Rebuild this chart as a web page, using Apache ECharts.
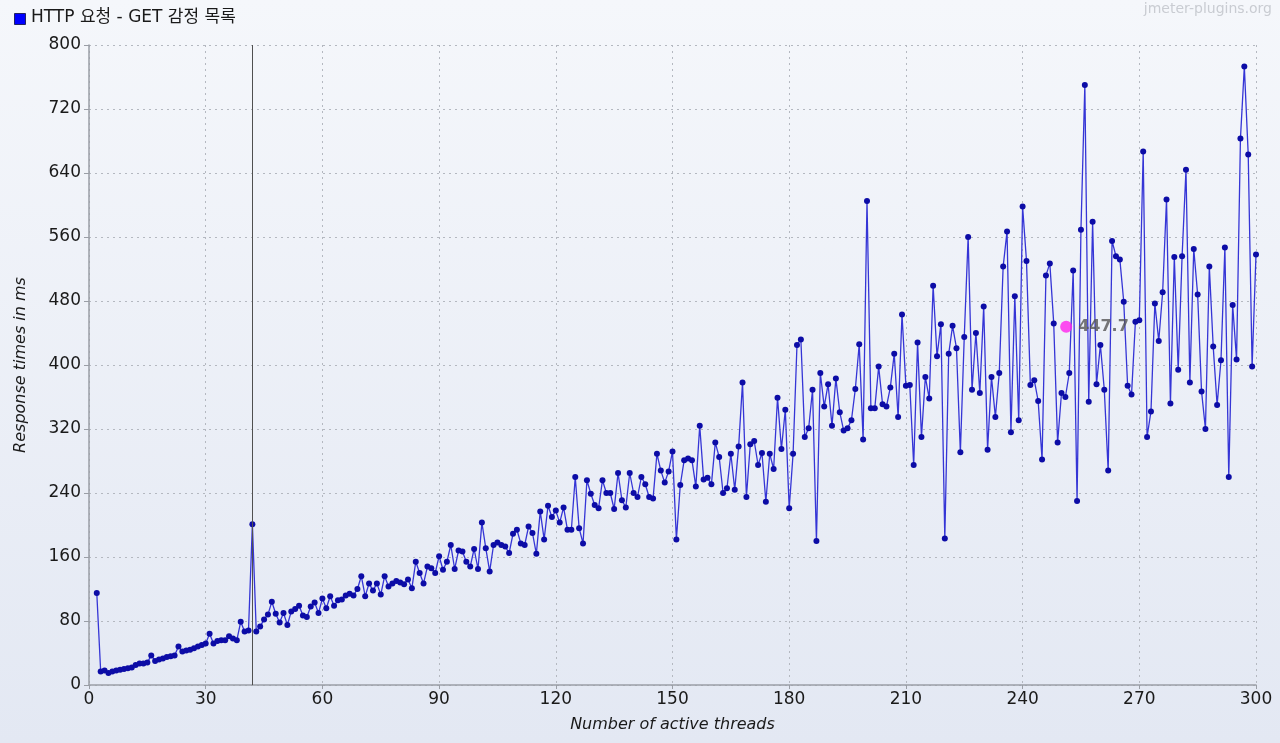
<!DOCTYPE html>
<html>
<head>
<meta charset="utf-8">
<script src="https://cdn.jsdelivr.net/npm/echarts@6/dist/echarts.min.js"></script>
<style>
html,body{margin:0;padding:0;width:1280px;height:743px;overflow:hidden;background:#e9edf6;}
#c{width:1280px;height:743px;}
</style>
</head>
<body>
<div id="c"></div>
<script>
var seriesName = 'HTTP 요청 - GET 감정 목록';
var xTitle = 'Number of active threads';
var yTitle = 'Response times in ms';
var watermark = 'jmeter-plugins.org';
var firstThread = 2;
var responseTimes = [
115,17,18,15,17,18,19,20,21,22,25,27,27,28,37,30,32,33,35,36,
37,48,42,43,44,46,48,50,52,64,52,55,56,56,61,58,56,79,67,68,
201,67,73,82,88,104,89,78,90,75,92,95,99,87,85,98,103,90,108,96,
111,99,106,107,112,114,112,120,136,111,127,118,127,113,136,123,127,130,128,126,
132,121,154,140,127,148,146,140,161,144,154,175,145,168,167,154,148,170,145,203,
171,142,175,178,175,173,165,189,194,177,175,198,190,164,217,182,224,210,218,203,
222,194,194,260,196,177,256,239,225,221,256,240,240,220,265,231,222,265,240,235,
260,251,235,233,289,268,253,267,292,182,250,281,283,281,248,324,257,259,251,303,
285,240,246,289,244,298,378,235,301,305,275,290,229,289,270,359,295,344,221,289,
425,432,310,321,369,180,390,348,376,324,383,341,318,321,331,370,426,307,605,346,
346,398,351,348,372,414,335,463,374,375,275,428,310,385,358,499,411,451,183,414,
449,421,291,435,560,369,440,365,473,294,385,335,390,523,567,316,486,331,598,530,
375,381,355,282,512,527,452,303,365,360,390,518,230,569,750,354,579,376,425,369,
268,555,536,532,479,374,363,454,456,667,310,342,477,430,491,607,352,535,394,536,
644,378,545,488,367,320,523,423,350,406,547,260,475,407,683,773,663,398,538
];
var crosshairX = 42;
var hoverPoint = [251.2, 447.7];
var xTicks = {min: 0, max: 300, interval: 30};
var yTicks = {min: 0, max: 800, interval: 80};

var pts = responseTimes.map(function(v, i){ return [firstThread + i, v]; });

var chart = echarts.init(document.getElementById('c'));
var axisFont = {fontFamily: 'DejaVu Sans', fontSize: 17, color: '#1a1a1a'};
chart.setOption({
  backgroundColor: {
    type: 'linear', x: 0, y: 0, x2: 0, y2: 1,
    colorStops: [{offset: 0, color: '#f5f7fb'}, {offset: 1, color: '#e3e8f3'}]
  },
  animation: false,
  graphic: [
    {type: 'rect', left: 14, top: 13, shape: {width: 11, height: 11},
     style: {fill: '#0000ff', stroke: '#222266', lineWidth: 1}},
    {type: 'text', left: 31, top: 9,
     style: {text: seriesName, fill: '#1a1a1a', font: '17px "DejaVu Sans", "Noto Sans CJK KR", sans-serif'}},
    {type: 'text', right: 8, top: 2,
     style: {text: watermark, fill: '#c9ccd2', font: '14px "DejaVu Sans", sans-serif'}}
  ],
  grid: {left: 89, right: 24, top: 45, bottom: 58, containLabel: false},
  xAxis: {
    type: 'value', min: xTicks.min, max: xTicks.max, interval: xTicks.interval,
    name: xTitle, nameLocation: 'middle', nameGap: 32,
    nameTextStyle: {fontFamily: 'DejaVu Sans', fontSize: 16, fontStyle: 'italic', color: '#1a1a1a'},
    axisLine: {show: true, lineStyle: {color: '#9a9ea6', width: 1.5}},
    axisTick: {show: true, length: 4, lineStyle: {color: '#9a9ea6'}},
    axisLabel: Object.assign({margin: 6}, axisFont),
    splitLine: {show: true, lineStyle: {color: '#b4b8c0', type: [2, 4], width: 1}}
  },
  yAxis: {
    type: 'value', min: yTicks.min, max: yTicks.max, interval: yTicks.interval,
    name: yTitle, nameLocation: 'middle', nameGap: 60, nameRotate: 90,
    nameTextStyle: {fontFamily: 'DejaVu Sans', fontSize: 16, fontStyle: 'italic', color: '#1a1a1a'},
    axisLine: {show: true, lineStyle: {color: '#9a9ea6', width: 1.5}},
    axisTick: {show: true, length: 5, lineStyle: {color: '#9a9ea6'}},
    axisLabel: Object.assign({margin: 8}, axisFont),
    splitLine: {show: true, lineStyle: {color: '#b4b8c0', type: [2, 4], width: 1}}
  },
  series: [
    {
      name: seriesName, type: 'line', data: pts,
      symbol: 'circle', symbolSize: 6,
      lineStyle: {color: '#3535d6', width: 1.3},
      itemStyle: {color: '#0c0ca6'},
      markLine: {
        silent: true, symbol: 'none', label: {show: false},
        lineStyle: {color: '#505050', type: 'solid', width: 1},
        data: [{xAxis: crosshairX}]
      },
      z: 2
    },
    {
      type: 'scatter', data: [hoverPoint], symbolSize: 12,
      itemStyle: {color: '#ff22ee'},
      label: {show: true, position: 'right', distance: 6,
        formatter: function(p){ return p.value[1].toFixed(1); },
        fontFamily: 'DejaVu Sans', fontSize: 16, fontWeight: 'bold', color: '#555555'},
      z: 5
    }
  ]
});
</script>
</body>
</html>
